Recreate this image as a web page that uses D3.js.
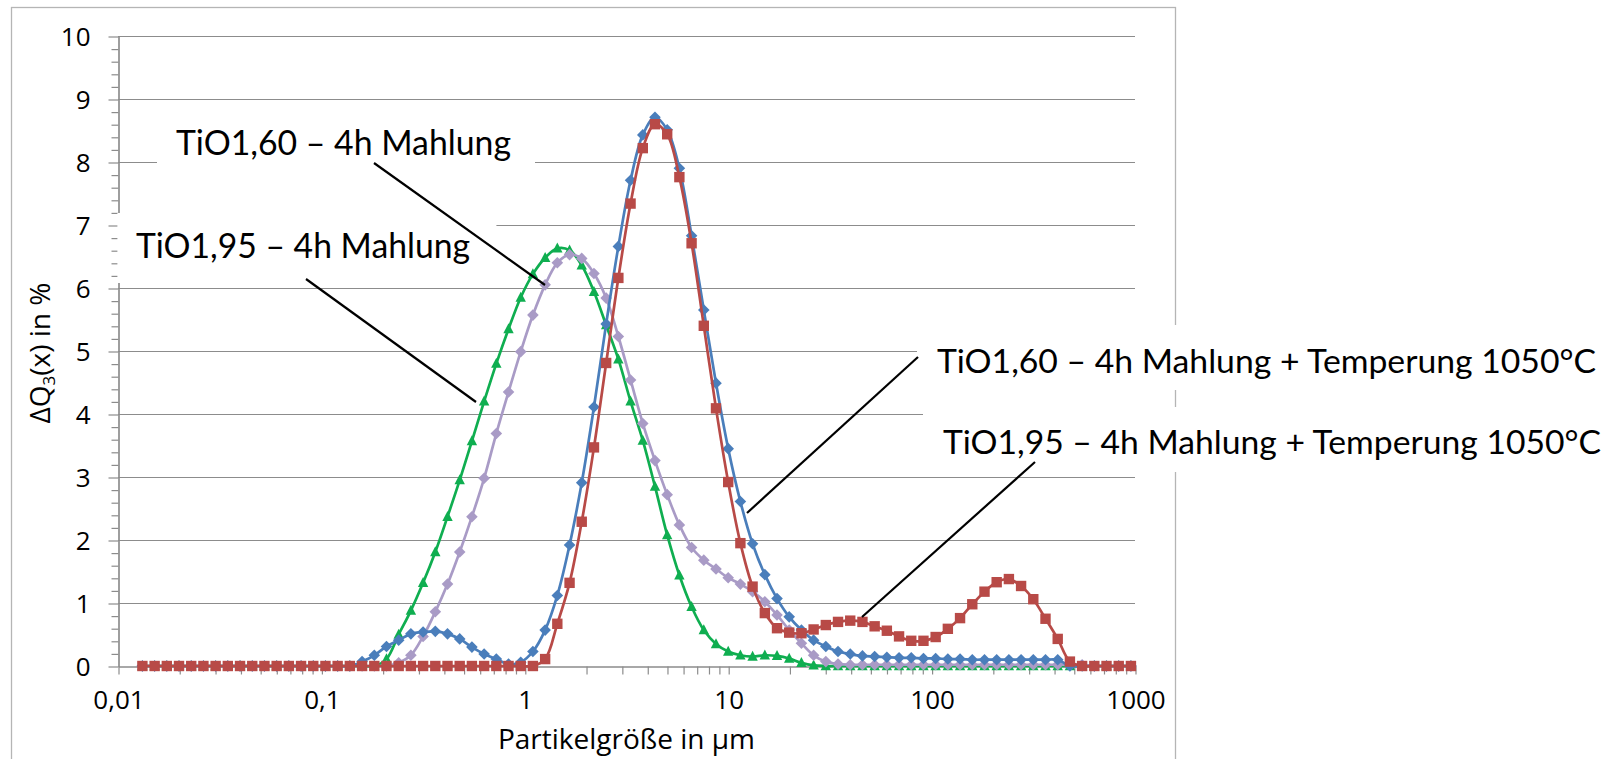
<!DOCTYPE html>
<html>
<head>
<meta charset="utf-8">
<script src="https://cdn.jsdelivr.net/npm/d3@7"></script>
<style>
  body { margin: 0; background: #fff; }
  svg text { font-family: "Open Sans", sans-serif; fill: #000; }
  .note { font-family: "Lato", "Open Sans", sans-serif; }
</style>
</head>
<body>
<div id="chart"></div>
<script>
// Particle size classes in µm (laser diffraction channels)
var sizes = [0.01318, 0.01514, 0.01738, 0.01995, 0.02291, 0.02630, 0.03020, 0.03467, 0.03981, 0.04571,
  0.05248, 0.06026, 0.06918, 0.07943, 0.09120, 0.1047, 0.1202, 0.1380, 0.1585, 0.1820,
  0.2089, 0.2399, 0.2754, 0.3162, 0.3631, 0.4169, 0.4786, 0.5495, 0.6310, 0.7244,
  0.8318, 0.9550, 1.096, 1.259, 1.445, 1.660, 1.905, 2.188, 2.512, 2.884,
  3.311, 3.802, 4.365, 5.012, 5.754, 6.607, 7.586, 8.710, 10.00, 11.48,
  13.18, 15.14, 17.38, 19.95, 22.91, 26.30, 30.20, 34.67, 39.81, 45.71,
  52.48, 60.26, 69.18, 79.43, 91.20, 104.7, 120.2, 138.0, 158.5, 182.0,
  208.9, 239.9, 275.4, 316.2, 363.1, 416.9, 478.6, 549.5, 631.0, 724.4,
  831.8, 955.0];

// TiO1,60 - 4h Mahlung + Temperung 1050°C (blue diamonds)
var blueVals = [0, 0, 0, 0, 0, 0, 0, 0, 0, 0, 0, 0, 0, 0, 0, 0, 0, 0,
  0.07, 0.17, 0.31, 0.41, 0.51, 0.54, 0.55, 0.51, 0.43, 0.30, 0.19, 0.11, 0.03, 0.06, 0.23, 0.57,
  1.12, 1.92, 2.91, 4.11, 5.43, 6.66, 7.71, 8.43, 8.71, 8.51, 7.9, 6.83, 5.65, 4.49, 3.45, 2.61,
  1.94, 1.45, 1.07, 0.78, 0.57, 0.41, 0.31, 0.23, 0.19, 0.16, 0.15, 0.14, 0.13, 0.13, 0.12, 0.12,
  0.11, 0.11, 0.1, 0.1, 0.1, 0.1, 0.1, 0.1, 0.1, 0.1,
  0, 0, 0, 0, 0, 0];

// TiO1,95 - 4h Mahlung + Temperung 1050°C (red squares)
var redVals = [0, 0, 0, 0, 0, 0, 0, 0, 0, 0, 0, 0, 0, 0, 0, 0, 0, 0, 0, 0, 0, 0, 0, 0, 0, 0, 0, 0, 0, 0, 0, 0, 0,
  0.11, 0.67, 1.32, 2.29, 3.47, 4.81, 6.16, 7.34, 8.22, 8.6, 8.44, 7.76, 6.71, 5.40, 4.09, 2.92,
  1.95, 1.26, 0.84, 0.60, 0.53, 0.52, 0.58, 0.65, 0.70, 0.72, 0.70, 0.63, 0.56, 0.47, 0.40, 0.40,
  0.46, 0.59, 0.76, 0.98, 1.18, 1.33, 1.38, 1.27, 1.06, 0.75, 0.43, 0.07,
  0, 0, 0, 0, 0];

// TiO1,60 - 4h Mahlung (lavender diamonds)
var purpleVals = [0, 0, 0, 0, 0, 0, 0, 0, 0, 0, 0, 0, 0, 0, 0, 0, 0, 0, 0, 0, 0,
  0.05, 0.17, 0.47, 0.86, 1.30, 1.81, 2.37, 2.98, 3.69, 4.35, 4.99, 5.57, 6.05, 6.40, 6.53, 6.47,
  6.23, 5.84, 5.23, 4.54, 3.85, 3.26, 2.72, 2.24, 1.88, 1.68, 1.54, 1.40, 1.30, 1.18, 1.02, 0.81,
  0.57, 0.36, 0.17, 0.07, 0.03,
  0.02, 0.02, 0.02, 0.02, 0.02, 0.02, 0.02, 0.02, 0.02, 0.02, 0.02, 0.02, 0.02, 0.02, 0.02, 0.02,
  0.02, 0.02, 0.02, 0.02,
  0, 0, 0, 0];

// TiO1,95 - 4h Mahlung (green triangles)
var greenVals = [0, 0, 0, 0, 0, 0, 0, 0, 0, 0, 0, 0, 0, 0, 0, 0, 0, 0, 0, 0,
  0.11, 0.5, 0.88, 1.32, 1.81, 2.37, 2.95, 3.57, 4.20, 4.8, 5.35, 5.85, 6.22, 6.48, 6.63, 6.6,
  6.36, 5.94, 5.41, 4.87, 4.20, 3.58, 2.85, 2.08, 1.44, 0.94, 0.57, 0.35, 0.23, 0.17, 0.15, 0.17,
  0.16, 0.12, 0.05, 0.01,
  0, 0, 0, 0, 0, 0, 0, 0, 0, 0, 0, 0, 0, 0, 0, 0, 0, 0, 0, 0, 0, 0, 0, 0, 0, 0];

var yTicks = [0, 1, 2, 3, 4, 5, 6, 7, 8, 9, 10];
var xTicks = [0.01, 0.1, 1, 10, 100, 1000];
var xTickLabels = ["0,01", "0,1", "1", "10", "100", "1000"];

var svgWidth = 1617, svgHeight = 759;
var plotLeft = 118, plotRight = 1135, plotTop = 36, plotBottom = 666;

var svg = d3.select("#chart").append("svg")
  .attr("width", svgWidth)
  .attr("height", svgHeight);

// outer chart frame
svg.append("rect")
  .attr("x", 11.5).attr("y", 7.5)
  .attr("width", 1164).attr("height", 770)
  .attr("fill", "#fff").attr("stroke", "#b5b5b5").attr("stroke-width", 1.3);

var x = d3.scaleLog().domain([0.01, 1000]).range([plotLeft, plotRight]);
var y = d3.scaleLinear().domain([0, 10]).range([plotBottom, plotTop]);

// horizontal gridlines
svg.append("g").selectAll("line")
  .data(yTicks.slice(1))
  .enter().append("line")
  .attr("x1", plotLeft).attr("x2", plotRight)
  .attr("y1", d => Math.round(y(d)) + 0.5).attr("y2", d => Math.round(y(d)) + 0.5)
  .attr("stroke", "#8c8c8c").attr("stroke-width", 1.2);

// y axis, major + minor ticks
var yMinor = [];
for (var v = 0; v < 10; v++) for (var m = 1; m < 5; m++) yMinor.push(v + m * 0.2);

svg.append("g")
  .attr("transform", `translate(${plotLeft + 0.5},0.5)`)
  .call(d3.axisLeft(y).tickValues(yMinor).tickSize(7).tickSizeOuter(0).tickFormat(""));
var yAxis = svg.append("g")
  .attr("transform", `translate(${plotLeft + 0.5},0.5)`)
  .call(d3.axisLeft(y).tickValues(yTicks).tickSize(10).tickSizeOuter(0).tickPadding(18));
yAxis.selectAll("text").style("font-size", "26px").attr("dy", "0.36em");

// x axis, decades + minor ticks
var xMinor = [];
[0.01, 0.1, 1, 10, 100].forEach(function(d) {
  for (var m = 2; m <= 9; m++) xMinor.push(d * m);
});
svg.append("g")
  .attr("transform", `translate(0.5,${plotBottom + 0.5})`)
  .call(d3.axisBottom(x).tickValues(xMinor).tickSize(8).tickSizeOuter(0).tickFormat(""));
var xAxis = svg.append("g")
  .attr("transform", `translate(0.5,${plotBottom + 0.5})`)
  .call(d3.axisBottom(x).tickValues(xTicks).tickSize(8).tickSizeOuter(0)
    .tickFormat((d, i) => xTickLabels[i]).tickPadding(16));
xAxis.selectAll("text").style("font-size", "26px").attr("dy", "0.71em");

svg.selectAll(".domain").attr("stroke", "#8c8c8c").attr("stroke-width", 1.2);
svg.selectAll(".tick line").attr("stroke", "#8c8c8c").attr("stroke-width", 1.2);

// axis titles
svg.append("text")
  .attr("x", (plotLeft + plotRight) / 2).attr("y", 749)
  .attr("text-anchor", "middle")
  .style("font-size", "28px")
  .text("Partikelgröße in µm");

var yTitle = svg.append("text")
  .attr("transform", "rotate(-90)")
  .attr("x", -353).attr("y", 50)
  .attr("text-anchor", "middle")
  .style("font-size", "28px");
yTitle.append("tspan").text("ΔQ");
yTitle.append("tspan").attr("dy", 5).style("font-size", "17px").text("3");
yTitle.append("tspan").attr("dy", -5).text("(x) in %");

// series
var line = d3.line()
  .x(d => x(d[0]))
  .y(d => y(d[1]))
  .curve(d3.curveCatmullRom.alpha(0.5));

var shapes = {
  diamond: "M0,-5.8L5.8,0L0,5.8L-5.8,0Z",
  square: "M-5.2,-5.2H5.2V5.2H-5.2Z",
  triangle: "M0,-5.8L5.2,4.2L-5.2,4.2Z"
};

function drawSeries(vals, color, shape) {
  var pts = sizes.map((s, i) => [s, vals[i]]);
  var g = svg.append("g");
  g.append("path")
    .datum(pts)
    .attr("d", line)
    .attr("fill", "none")
    .attr("stroke", color)
    .attr("stroke-width", 2.7);
  g.selectAll(".mk")
    .data(pts)
    .enter().append("path")
    .attr("d", shapes[shape])
    .attr("transform", d => `translate(${x(d[0])},${y(d[1])})`)
    .attr("fill", color);
}

drawSeries(greenVals, "#0fae50", "triangle");
drawSeries(purpleVals, "#a99bc6", "diamond");
drawSeries(blueVals, "#4a7ebb", "diamond");
drawSeries(redVals, "#b84a47", "square");

// annotation boxes (they hide the gridlines behind them)
var notes = [
  { text: "TiO1,60 – 4h Mahlung", x: 176, y: 155, len: 335, size: 35, box: [157, 107, 378, 70] },
  { text: "TiO1,95 – 4h Mahlung", x: 136, y: 258, len: 334, size: 35, box: [117.4, 213, 379, 70] },
  { text: "TiO1,60 – 4h Mahlung + Temperung 1050°C", x: 937, y: 373, len: 659, size: 33, box: [917, 325, 700, 65] },
  { text: "TiO1,95 – 4h Mahlung + Temperung 1050°C", x: 943, y: 454, len: 658, size: 33, box: [923, 407, 694, 65] }
];
var leaders = [
  [374, 163, 545, 285],
  [306, 279, 476, 402],
  [918, 357, 747, 513],
  [1035, 462, 862, 617]
];

notes.forEach(function(n) {
  svg.append("rect")
    .attr("x", n.box[0]).attr("y", n.box[1])
    .attr("width", n.box[2]).attr("height", n.box[3])
    .attr("fill", "#fff");
  svg.append("text")
    .attr("class", "note")
    .attr("x", n.x).attr("y", n.y)
    .style("font-size", n.size + "px")
    .attr("textLength", n.len)
    .attr("lengthAdjust", "spacingAndGlyphs")
    .text(n.text);
});

svg.append("g").selectAll("line")
  .data(leaders)
  .enter().append("line")
  .attr("x1", d => d[0]).attr("y1", d => d[1])
  .attr("x2", d => d[2]).attr("y2", d => d[3])
  .attr("stroke", "#000").attr("stroke-width", 2.2);
</script>
</body>
</html>
